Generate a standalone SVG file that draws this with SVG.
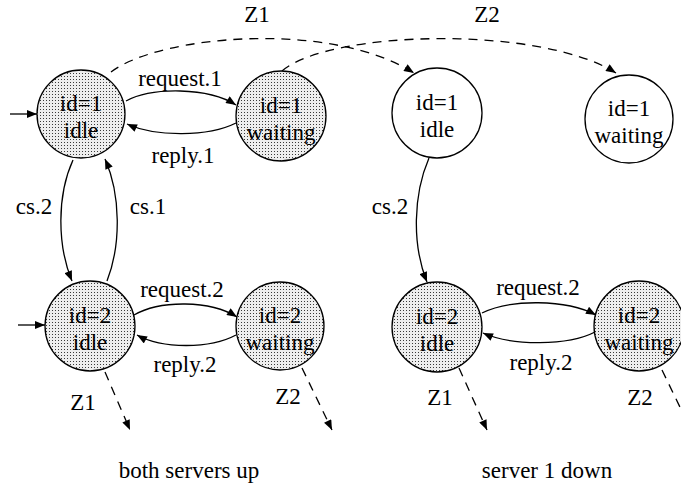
<svg xmlns="http://www.w3.org/2000/svg" width="681" height="492" viewBox="0 0 681 492">
<defs>
<pattern id="dots" width="3" height="3" patternUnits="userSpaceOnUse">
<rect width="3" height="3" fill="#eeeeee"/>
<rect x="1" y="1" width="1" height="1" fill="#3a3a3a"/>
</pattern>
<marker id="arr" viewBox="0 0 10 8" refX="10" refY="4" markerWidth="11" markerHeight="8" markerUnits="userSpaceOnUse" orient="auto">
<path d="M0,0 L10,4 L0,8 Z" fill="#000"/>
</marker>
</defs>
<style>
text{font-family:"Liberation Serif","Times New Roman",serif;font-size:23px;fill:#000;text-anchor:middle}
.st{fill:url(#dots);stroke:#000;stroke-width:1.3}
.pl{fill:#fff;stroke:#000;stroke-width:1.3}
.e{fill:none;stroke:#000;stroke-width:1.3;marker-end:url(#arr)}
.d{stroke-dasharray:9,7}
</style>
<rect width="681" height="492" fill="#fff"/>
<g id="edges">
<path class="e" d="M10,114 L37,114"/>
<path class="e" d="M18,325 L45,325"/>
<path class="e" d="M126,101 C152,87 208,87 236,105"/>
<path class="e" d="M236,123 C208,137 156,137 127,124"/>
<path class="e" d="M73,160 C57,195 57,245 72,281"/>
<path class="e" d="M107,281 C121,245 121,195 105,159"/>
<path class="e" d="M429,158 C413,195 412,245 427,282"/>
<path class="e" d="M134,315 C160,300 210,300 237,317"/>
<path class="e" d="M236,335 C210,349 162,349 137,335"/>
<path class="e" d="M482,313 C510,299 566,299 596,315"/>
<path class="e" d="M595,332 C568,346 512,346 483,333"/>
<path class="e d" d="M111,72 C160,35 330,20 414,73"/>
<path class="e d" d="M282,71 C330,30 540,25 616,73"/>
<path class="e d" d="M105,372 L130,430"/>
<path class="e d" d="M302,368 L332,430"/>
<path class="e d" d="M459,368 L487,430"/>
<path class="e d" d="M662,370 L692,432"/>
</g>
<g id="n1_idle"><circle class="st" cx="81" cy="114" r="44"/><text x="81" y="111">id=1</text><text x="81" y="138">idle</text></g>
<g id="n1_waiting"><circle class="st" cx="281" cy="116" r="45"/><text x="281" y="113">id=1</text><text x="281" y="140">waiting</text></g>
<g id="n1_idle_r"><circle class="pl" cx="437" cy="113" r="45"/><text x="437" y="110">id=1</text><text x="437" y="137">idle</text></g>
<g id="n1_waiting_r"><circle class="pl" cx="629" cy="119" r="44"/><text x="629" y="116">id=1</text><text x="629" y="143">waiting</text></g>
<g id="n2_idle"><circle class="st" cx="90" cy="326" r="45"/><text x="90" y="323">id=2</text><text x="90" y="350">idle</text></g>
<g id="n2_waiting"><circle class="st" cx="280" cy="326" r="44"/><text x="280" y="323">id=2</text><text x="280" y="350">waiting</text></g>
<g id="n2_idle_r"><circle class="st" cx="437" cy="327" r="45"/><text x="437" y="324">id=2</text><text x="437" y="351">idle</text></g>
<g id="n2_waiting_r"><circle class="st" cx="639" cy="326" r="45"/><text x="639" y="323">id=2</text><text x="639" y="350">waiting</text></g>
<g id="labels">
<text x="257" y="22">Z1</text>
<text x="487" y="22">Z2</text>
<text x="180" y="86">request.1</text>
<text x="183" y="163">reply.1</text>
<text x="34" y="214">cs.2</text>
<text x="148" y="214">cs.1</text>
<text x="390" y="214">cs.2</text>
<text x="182" y="297">request.2</text>
<text x="185" y="372">reply.2</text>
<text x="538" y="295">request.2</text>
<text x="541" y="370">reply.2</text>
<text x="83" y="410">Z1</text>
<text x="288" y="404">Z2</text>
<text x="440" y="405">Z1</text>
<text x="640" y="405">Z2</text>
<text x="189" y="478">both servers up</text>
<text x="547" y="478">server 1 down</text>
</g>
</svg>
